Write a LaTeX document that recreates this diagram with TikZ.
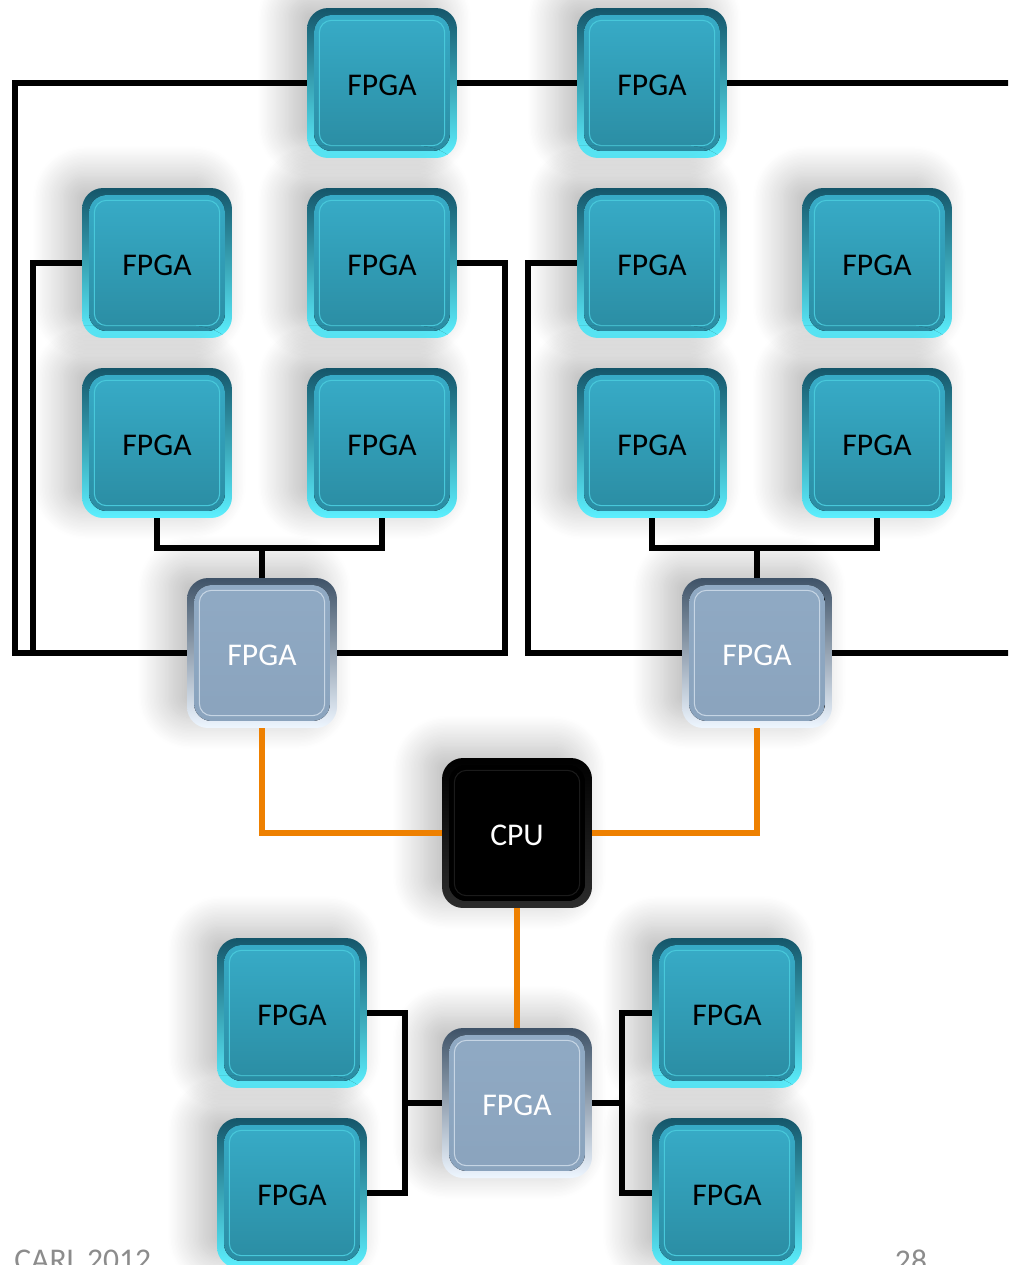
\documentclass[tikz,border=0pt]{standalone}
\usepackage{fontspec}
\setmainfont{Carlito}
\usetikzlibrary{shadows.blur}

\definecolor{tealrimA}{HTML}{15566A}
\definecolor{tealrimB}{HTML}{5CF0FF}
\definecolor{tealfaceA}{HTML}{38ADC9}
\definecolor{tealfaceB}{HTML}{2A8BA1}
\definecolor{greyrimA}{HTML}{3F5368}
\definecolor{greyrimB}{HTML}{EEF6FF}
\definecolor{greyfaceA}{HTML}{90AAC4}
\definecolor{greyfaceB}{HTML}{8AA3BD}
\definecolor{cpurimA}{HTML}{000000}
\definecolor{cpurimB}{HTML}{2C2C2C}
\definecolor{busorange}{HTML}{EE8000}
\definecolor{footgrey}{HTML}{8C8C8C}

\tikzset{
  % rounded key with a rim, an inset face and a thin inner outline
  chip/.style n args={5}{
    rounded corners=12pt, minimum size=3cm, inner sep=0pt,
    text=#5, font=\fontsize{18}{20}\selectfont,
    text height=14pt, text depth=0pt,
    top color=#1, bottom color=#2,
    blur shadow={shadow xshift=-10pt, shadow yshift=6pt,
      shadow blur radius=18pt, shadow blur steps=25, shadow opacity=28},
    path picture={
      \fill[top color=#3, bottom color=#4, rounded corners=10pt]
        ([shift={(4pt,4pt)}]path picture bounding box.south west) rectangle
        ([shift={(-4pt,-4pt)}]path picture bounding box.north east);
      \draw[#2!60!#4, line width=0.6pt, rounded corners=7pt]
        ([shift={(7pt,7pt)}]path picture bounding box.south west) rectangle
        ([shift={(-7pt,-7pt)}]path picture bounding box.north east);
    }},
  fpga/.style={chip={tealrimA}{tealrimB}{tealfaceA}{tealfaceB}{black}},
  hub/.style={chip={greyrimA}{greyrimB}{greyfaceA}{greyfaceB}{white}},
  cpu/.style={chip={cpurimA}{cpurimB}{black}{black}{white}},
  bus/.style={line width=3.4pt, black},
  host/.style={line width=3.4pt, busorange},
}

\begin{document}
\begin{tikzpicture}[x=0.02cm, y=-0.02cm]
  \useasboundingbox (0,0) rectangle (1008,1265);
  \clip (0,0) rectangle (1008,1265);

  % top pair
  \node[fpga] (t1) at (382,83) {FPGA};
  \node[fpga] (t2) at (652,83) {FPGA};

  % left group
  \node[fpga] (a1) at (157,263) {FPGA};
  \node[fpga] (a2) at (382,263) {FPGA};
  \node[fpga] (a3) at (157,443) {FPGA};
  \node[fpga] (a4) at (382,443) {FPGA};
  \node[hub]  (ga) at (262,653) {FPGA};

  % right group
  \node[fpga] (b1) at (652,263) {FPGA};
  \node[fpga] (b2) at (877,263) {FPGA};
  \node[fpga] (b3) at (652,443) {FPGA};
  \node[fpga] (b4) at (877,443) {FPGA};
  \node[hub]  (gb) at (757,653) {FPGA};

  \node[cpu] (cpu) at (517,833) {CPU};

  % bottom group
  \node[hub]  (gc) at (517,1103) {FPGA};
  \node[fpga] (c1) at (292,1013) {FPGA};
  \node[fpga] (c2) at (292,1193) {FPGA};
  \node[fpga] (c3) at (727,1013) {FPGA};
  \node[fpga] (c4) at (727,1193) {FPGA};

  \coordinate (lbus) at (15,0);
  \coordinate (lbus2) at (33,0);
  \coordinate (rbus) at (505,0);
  \coordinate (bbus) at (528,0);
  \coordinate (redge) at (1012,0);
  \coordinate (ajoin) at (262,548);
  \coordinate (bjoin) at (757,548);
  \coordinate (cbus) at (405,0);
  \coordinate (dbus) at (622,0);

  % black links
  \draw[bus] (t1.west) -| (lbus |- ga.west) -- (ga.west);
  \draw[bus] (a1.west) -| (lbus2 |- ga.west);
  \draw[bus] (a2.east) -| (rbus |- ga.east) -- (ga.east);
  \draw[bus] (t1.east) -- (t2.west);
  \draw[bus] (t2.east) -- (redge |- t2.east);
  \draw[bus] (a3.south) |- (ajoin) -| (a4.south);
  \draw[bus] (ajoin) -- (ga.north);

  \draw[bus] (b1.west) -| (bbus |- gb.west) -- (gb.west);
  \draw[bus] (gb.east) -- (redge |- gb.east);
  \draw[bus] (b3.south) |- (bjoin) -| (b4.south);
  \draw[bus] (bjoin) -- (gb.north);

  \draw[bus] (c1.east) -| (cbus |- c2.east) -- (c2.east);
  \draw[bus] (gc.west) -- (cbus |- gc.west);
  \draw[bus] (c3.west) -| (dbus |- c4.west) -- (c4.west);
  \draw[bus] (gc.east) -- (dbus |- gc.east);

  % host links
  \draw[host] (ga.south) |- (cpu.west);
  \draw[host] (cpu.east) -| (gb.south);
  \draw[host] (cpu.south) -- (gc.north);

  % footer
  \node[anchor=north west, text=footgrey, font=\fontsize{18}{20}\selectfont,
    inner sep=0pt] (foot) at (14,1250) {CARL 2012};
  \node[anchor=north, text=footgrey, font=\fontsize{18}{20}\selectfont,
    inner sep=0pt] (page) at (911,1250) {28};
\end{tikzpicture}
\end{document}
